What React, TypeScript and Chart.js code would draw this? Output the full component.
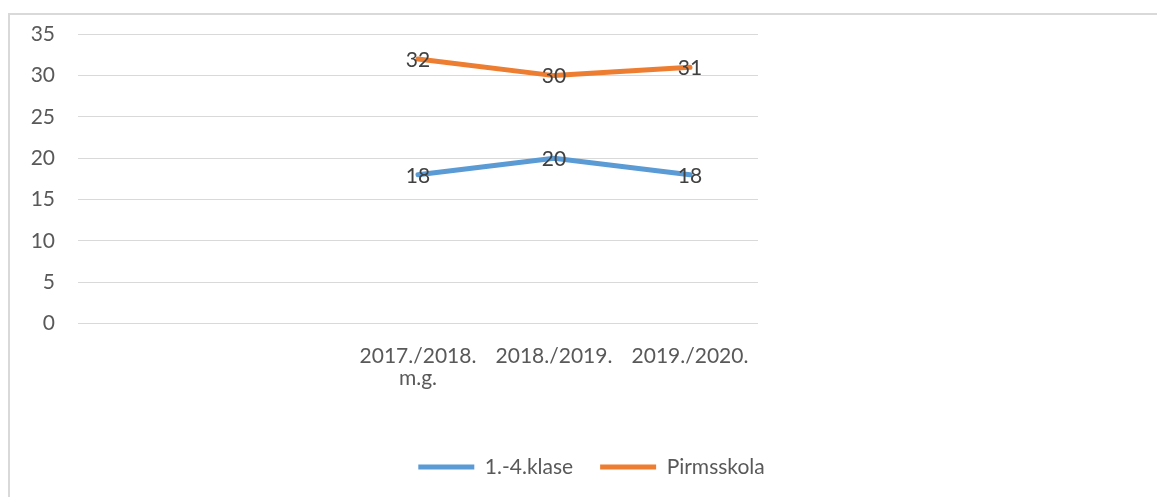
import React, { useEffect, useRef } from "react";
import { Chart, registerables } from "chart.js";

Chart.register(...registerables);

const categories: (string | string[])[] = ["", "", ["2017./2018.", "m.g."], "2018./2019.", "2019./2020."];
const seriesKlase: (number | null)[] = [null, null, 18, 20, 18];
const seriesPirmsskola: (number | null)[] = [null, null, 32, 30, 31];
const seriesNames = ["1.-4.klase", "Pirmsskola"];
const yTicks = { min: 0, max: 35, step: 5 };

const FONT = "Lato, 'Open Sans', sans-serif";
const BLUE = "#5b9bd5";
const ORANGE = "#ed7d31";

const dataLabelPlugin = {
  id: "dataLabels",
  afterDatasetsDraw(chart: any) {
    const ctx = chart.ctx;
    ctx.save();
    ctx.font = `21px ${FONT}`;
    ctx.fillStyle = "#404040";
    ctx.textAlign = "center";
    ctx.textBaseline = "middle";
    chart.data.datasets.forEach((ds: any, i: number) => {
      const meta = chart.getDatasetMeta(i);
      meta.data.forEach((el: any, j: number) => {
        const v = ds.data[j];
        if (v == null) return;
        ctx.fillText(String(v), el.x, el.y + 1);
      });
    });
    ctx.restore();
  },
};

export default function App() {
  const ref = useRef<HTMLCanvasElement | null>(null);

  useEffect(() => {
    if (!ref.current) return;
    const chart = new Chart(ref.current, {
      type: "line",
      data: {
        labels: categories as any,
        datasets: [
          {
            label: seriesNames[0],
            data: seriesKlase,
            borderColor: BLUE,
            backgroundColor: BLUE,
            borderWidth: 5,
            borderCapStyle: "round",
            borderJoinStyle: "round",
            pointRadius: 0,
            pointHoverRadius: 0,
            tension: 0,
          },
          {
            label: seriesNames[1],
            data: seriesPirmsskola,
            borderColor: ORANGE,
            backgroundColor: ORANGE,
            borderWidth: 5,
            borderCapStyle: "round",
            borderJoinStyle: "round",
            pointRadius: 0,
            pointHoverRadius: 0,
            tension: 0,
          },
        ],
      },
      options: {
        responsive: false,
        animation: false,
        devicePixelRatio: 1,
        layout: { padding: { top: 19.3, bottom: 9.5, left: 0, right: 0 } },
        plugins: {
          tooltip: { enabled: false },
          legend: {
            position: "bottom",
            labels: {
              usePointStyle: true,
              pointStyle: "line",
              pointStyleWidth: 56,
              padding: 27,
              color: "#595959",
              font: { family: FONT, size: 21 },
            },
          },
        },
        scales: {
          x: {
            offset: true,
            grid: { display: false },
            border: { display: false },
            ticks: {
              color: "#595959",
              font: { family: FONT, size: 21, lineHeight: 1.05 },
              padding: 14,
              maxRotation: 0,
              autoSkip: false,
            },
            afterFit(s: any) {
              s.height = 106;
            },
          },
          y: {
            min: yTicks.min,
            max: yTicks.max,
            grid: { color: "#d9d9d9", lineWidth: 1, drawTicks: false },
            border: { display: false },
            ticks: {
              stepSize: yTicks.step,
              color: "#595959",
              font: { family: FONT, size: 21 },
              padding: 23,
            },
            afterFit(s: any) {
              s.width = 68;
              s.paddingTop = 12;
              s.paddingBottom = 12;
            },
          },
          spacer: {
            type: "linear",
            position: "right",
            display: true,
            grid: { display: false },
            border: { display: false },
            ticks: { display: false },
            afterFit(s: any) {
              s.width = 415;
            },
          },
        },
      } as any,
      plugins: [dataLabelPlugin],
    });
    return () => chart.destroy();
  }, []);

  return (
    <div
      style={{
        position: "fixed",
        left: 0,
        top: 0,
        width: 1157,
        height: 497,
        overflow: "hidden",
        background: "#fff",
      }}
    >
      <div
        style={{
          position: "absolute",
          left: 8,
          top: 13,
          width: 1163,
          height: 482,
          border: "2px solid #d9d9d9",
        }}
      >
        <canvas ref={ref} width={1163} height={482} style={{ display: "block", width: 1163, height: 482 }} />
      </div>
    </div>
  );
}
